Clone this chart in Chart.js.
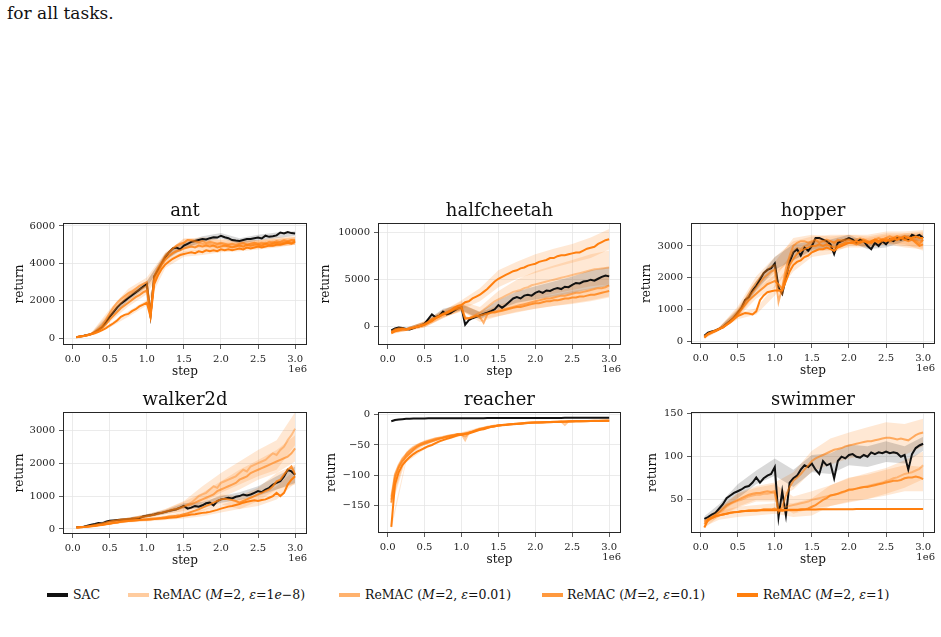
<!DOCTYPE html>
<html>
<head>
<title>ReMAC learning curves</title>
<script src="https://cdn.jsdelivr.net/npm/chart.js"></script>
<style>
    body { margin: 0; background: #fff; width: 941px; height: 637px; overflow: hidden; position: relative; font-family: "DejaVu Serif", serif; color: #111; }
    .intro { position: absolute; left: 7px; top: 3px; font-size: 17px; }
    canvas { position: absolute; }
    .swatch { position: absolute; top: 593px; height: 4px; }
    .legend-item { position: absolute; top: 587px; font-size: 12.5px; line-height: 15px; white-space: nowrap; }
</style>
</head>
<body>
<div class="intro">for all tasks.</div>

<div class="swatch" style="left:47px;width:21px;background:#111"></div>
<div class="legend-item" style="left:73px">SAC</div>
<div class="swatch" style="left:128px;width:21px;background:rgba(255,127,14,0.4)"></div>
<div class="legend-item" style="left:153px">ReMAC (<i>M</i>=2, <i>ε</i>=1<i>e</i>−8)</div>
<div class="swatch" style="left:339px;width:21px;background:rgba(255,127,14,0.6)"></div>
<div class="legend-item" style="left:365px">ReMAC (<i>M</i>=2, <i>ε</i>=0.01)</div>
<div class="swatch" style="left:542px;width:21px;background:rgba(255,127,14,0.8)"></div>
<div class="legend-item" style="left:567px">ReMAC (<i>M</i>=2, <i>ε</i>=0.1)</div>
<div class="swatch" style="left:737px;width:21px;background:rgb(255,127,14)"></div>
<div class="legend-item" style="left:763px">ReMAC (<i>M</i>=2, <i>ε</i>=1)</div>

<script>
// environment steps (x 1e6)
const steps = [0.05, 0.1, 0.15, 0.2, 0.25, 0.3, 0.35, 0.4, 0.45, 0.5,
    0.55, 0.6, 0.65, 0.7, 0.75, 0.8, 0.85, 0.9, 0.95, 1.0,
    1.05, 1.1, 1.15, 1.2, 1.25, 1.3, 1.35, 1.4, 1.45, 1.5,
    1.55, 1.6, 1.65, 1.7, 1.75, 1.8, 1.85, 1.9, 1.95, 2.0,
    2.05, 2.1, 2.15, 2.2, 2.25, 2.3, 2.35, 2.4, 2.45, 2.5,
    2.55, 2.6, 2.65, 2.7, 2.75, 2.8, 2.85, 2.9, 2.95, 3.0];
// steps where the std band is read
const bandSteps = [0.05, 0.25, 0.5, 0.75, 1.0, 1.25, 1.5, 1.75, 2.0, 2.25, 2.5, 2.75, 3.0];

const xTicks = [0, 0.5, 1, 1.5, 2, 2.5, 3];
const antYTicks = [0, 2000, 4000, 6000];
const cheetahYTicks = [0, 5000, 10000];
const hopperYTicks = [0, 1000, 2000, 3000];
const walkerYTicks = [0, 1000, 2000, 3000];
const reacherYTicks = [-150, -100, -50, 0];
const swimmerYTicks = [50, 100, 150];

const seriesNames = ['SAC', 'ReMAC (M=2, eps=1e-8)', 'ReMAC (M=2, eps=0.01)', 'ReMAC (M=2, eps=0.1)', 'ReMAC (M=2, eps=1)'];

// ---- ant ----
const antSac = [60, 100, 130, 170, 220, 320, 450, 600, 850, 1150,
    1400, 1650, 1850, 2000, 2150, 2300, 2450, 2600, 2750, 2900,
    1250, 3300, 3650, 4000, 4350, 4600, 4800, 4850, 4750, 4950,
    5050, 5150, 5200, 5250, 5300, 5280, 5350, 5400, 5380, 5480,
    5400, 5350, 5250, 5220, 5200, 5250, 5300, 5300, 5350, 5380,
    5330, 5480, 5420, 5450, 5500, 5650, 5600, 5680, 5620, 5600];
const antEps1e8 = [50, 90, 120, 170, 230, 330, 480, 650, 900, 1200,
    1450, 1700, 1900, 2100, 2250, 2400, 2500, 2600, 2700, 2800,
    1300, 3300, 3700, 4050, 4350, 4600, 4800, 4900, 5000, 5100,
    5250, 5200, 5150, 5100, 5050, 5000, 5050, 4950, 5000, 5050,
    4950, 5000, 4900, 4950, 5000, 5050, 5000, 5050, 5100, 5050,
    5000, 5100, 5050, 5150, 5100, 5150, 5200, 5150, 5250, 5200];
const antEps001 = [50, 90, 120, 180, 250, 350, 500, 700, 1000, 1350,
    1650, 1900, 2100, 2250, 2400, 2500, 2650, 2800, 2900, 3000,
    1300, 3300, 3750, 4050, 4400, 4600, 4800, 4950, 5050, 5100,
    5250, 5250, 5200, 5150, 5200, 5100, 5150, 5100, 5050, 5100,
    5050, 5000, 5050, 5000, 5050, 5100, 5000, 5050, 5100, 5050,
    5100, 5050, 5150, 5100, 5200, 5150, 5250, 5200, 5250, 5250];
const antEps01 = [50, 90, 120, 160, 220, 300, 400, 550, 750, 1000,
    1200, 1400, 1600, 1750, 1900, 2050, 2200, 2300, 2450, 2550,
    1200, 3100, 3500, 3900, 4200, 4400, 4550, 4650, 4700, 4800,
    4850, 4900, 4850, 4950, 4900, 4950, 4900, 4950, 4850, 4900,
    4950, 4900, 4850, 4900, 4950, 4900, 5000, 4950, 5000, 5000,
    4950, 5050, 5000, 5050, 5100, 5050, 5100, 5150, 5100, 5200];
const antEps1 = [50, 90, 120, 160, 210, 270, 340, 430, 540, 680,
    800, 950, 1150, 1250, 1300, 1450, 1550, 1700, 1800, 1900,
    1150, 2900, 3350, 3700, 3950, 4100, 4250, 4350, 4450, 4500,
    4550, 4600, 4550, 4650, 4600, 4700, 4650, 4700, 4650, 4750,
    4700, 4750, 4700, 4750, 4800, 4750, 4850, 4800, 4850, 4900,
    4850, 4900, 4950, 4950, 5000, 5000, 5050, 5100, 5050, 5150];
const antSpread = [
    [20, 40, 120, 150, 150, 200, 150, 150, 150, 150, 150, 150, 120],
    [20, 50, 200, 250, 250, 200, 250, 250, 200, 200, 200, 200, 200],
    [20, 50, 200, 250, 250, 200, 200, 200, 200, 200, 200, 200, 200],
    [20, 40, 150, 200, 200, 200, 200, 200, 200, 200, 200, 200, 200],
    [20, 40, 100, 150, 150, 200, 150, 150, 150, 150, 150, 150, 150]];

// ---- halfcheetah ----
const cheetahSac = [-400, -200, -100, -150, -250, -300, -150, 0, 100, 300,
    800, 1300, 1000, 1150, 1600, 1300, 1450, 1700, 1950, 2050,
    200, 700, 900, 1050, 1200, 1350, 1500, 1650, 1850, 2300,
    2000, 2300, 2650, 3000, 3150, 3000, 3300, 3400, 3300, 3600,
    3750, 3600, 3850, 3800, 4000, 4100, 4000, 4250, 4200, 4450,
    4650, 4600, 4800, 4850, 5000, 4900, 5100, 5300, 5450, 5350];
const cheetahEps1e8 = [-500, -300, -200, -250, -300, -250, -150, 0, 100, 250,
    500, 700, 900, 1100, 1300, 1500, 1700, 1900, 2100, 2200,
    1000, 900, 1100, 1300, 1500, 1800, 2100, 2400, 2700, 2900,
    3100, 3300, 3500, 3700, 3800, 3900, 4100, 4200, 4400, 4500,
    4600, 4700, 4800, 4900, 5000, 5100, 5200, 5300, 5400, 5500,
    5600, 5700, 5800, 5900, 6000, 6100, 6150, 6200, 6250, 6300];
const cheetahEps001 = [-600, -300, -200, -200, -300, -200, -100, 0, 150, 300,
    500, 800, 1000, 1200, 1400, 1500, 1700, 1900, 2000, 2100,
    800, 900, 1000, 1200, 1000, 400, 1300, 1500, 1600, 1700,
    1800, 1900, 2000, 2100, 2200, 2300, 2400, 2500, 2600, 2700,
    2800, 2900, 3000, 3000, 3100, 3200, 3300, 3300, 3400, 3500,
    3600, 3600, 3700, 3800, 3900, 4000, 4100, 4100, 4200, 4400];
const cheetahEps01 = [-600, -400, -300, -200, -300, -200, -100, 0, 100, 250,
    450, 700, 900, 1100, 1300, 1400, 1600, 1800, 1900, 2000,
    900, 900, 1000, 1100, 1200, 1300, 1400, 1500, 1500, 1600,
    1700, 1800, 1900, 2000, 2100, 2100, 2200, 2300, 2400, 2500,
    2500, 2600, 2700, 2700, 2800, 2800, 2900, 3000, 3000, 3100,
    3100, 3200, 3200, 3300, 3400, 3400, 3500, 3600, 3700, 3800];
const cheetahEps1 = [-700, -500, -400, -300, -300, -200, -100, 0, 100, 200,
    400, 600, 900, 1100, 1300, 1500, 1700, 2000, 2200, 2300,
    2600, 2700, 3000, 3200, 3400, 3700, 4000, 4400, 4800, 5100,
    5300, 5500, 5700, 5900, 6000, 6200, 6300, 6500, 6600, 6700,
    6900, 7000, 7100, 7300, 7300, 7500, 7600, 7600, 7700, 7800,
    7900, 7900, 8100, 8300, 8400, 8500, 8800, 9000, 9200, 9300];
const cheetahSpread = [
    [100, 150, 200, 300, 300, 400, 500, 600, 700, 800, 900, 1000, 1000],
    [100, 150, 300, 400, 500, 600, 900, 1200, 1400, 1500, 1600, 1700, 1800],
    [100, 150, 300, 400, 400, 500, 600, 700, 800, 900, 1000, 1100, 1200],
    [100, 150, 300, 300, 400, 400, 500, 500, 600, 600, 700, 700, 700],
    [100, 150, 300, 400, 500, 700, 900, 900, 1000, 1000, 1000, 1100, 1100]];

// ---- hopper ----
const hopperSac = [180, 280, 320, 350, 400, 450, 550, 650, 750, 900,
    1050, 1300, 1400, 1600, 1750, 1950, 2150, 2250, 2300, 2450,
    1700, 1500, 2000, 2500, 2800, 2900, 2700, 2950, 2850, 3000,
    3250, 3250, 3200, 3150, 3050, 2750, 3100, 3150, 3200, 3250,
    3200, 3100, 3200, 3150, 3000, 2900, 3100, 3000, 3150, 3050,
    3200, 3150, 3250, 3200, 3250, 3200, 3350, 3300, 3350, 3250];
const hopperEps1e8 = [150, 250, 300, 350, 400, 470, 550, 650, 800, 950,
    1100, 1300, 1500, 1700, 1850, 2000, 2150, 2250, 2350, 2400,
    1600, 1500, 2100, 2600, 2850, 2950, 2900, 3000, 3050, 3100,
    3150, 3200, 3150, 3100, 3150, 3100, 3150, 3200, 3150, 3200,
    3150, 3200, 3250, 3200, 3150, 3100, 3200, 3150, 3200, 3250,
    3200, 3250, 3300, 3250, 3200, 3300, 3250, 3200, 3100, 3200];
const hopperEps001 = [150, 250, 300, 350, 400, 450, 550, 650, 750, 900,
    1050, 1250, 1400, 1550, 1700, 1850, 2000, 2100, 2200, 2250,
    1250, 1700, 2300, 2700, 3000, 3100, 3150, 3150, 3100, 3150,
    3200, 3100, 3150, 3200, 3150, 3100, 3200, 3150, 3200, 3200,
    3150, 3100, 3150, 3200, 3150, 3100, 3200, 3250, 3200, 3250,
    3300, 3250, 3300, 3250, 3200, 3250, 3200, 3150, 3050, 3200];
const hopperEps01 = [150, 240, 290, 340, 400, 450, 530, 620, 720, 850,
    1000, 1150, 1300, 1400, 1500, 1600, 1700, 1800, 1850, 1900,
    1800, 1650, 2100, 2400, 2600, 2750, 2850, 2900, 2950, 3000,
    3000, 3050, 3000, 3050, 3000, 2950, 3000, 3050, 3100, 3100,
    3100, 3050, 3100, 3150, 3100, 3100, 3150, 3100, 3150, 3200,
    3150, 3200, 3200, 3250, 3200, 3150, 3200, 3100, 3000, 3050];
const hopperEps1 = [120, 230, 280, 330, 390, 440, 520, 600, 700, 800,
    850, 900, 880, 850, 950, 1300, 1450, 1550, 1580, 1600,
    1600, 1600, 1900, 2200, 2400, 2500, 2550, 2650, 2700, 2800,
    2850, 2900, 2900, 2950, 2900, 2850, 2950, 3000, 3050, 3100,
    3100, 3150, 3100, 3150, 3100, 3150, 3200, 3150, 3200, 3150,
    3200, 3250, 3200, 3250, 3300, 3250, 3250, 3300, 3250, 3250];
const hopperSpread = [
    [30, 50, 100, 150, 200, 250, 150, 150, 100, 100, 100, 100, 100],
    [30, 50, 150, 200, 250, 300, 200, 200, 150, 200, 200, 250, 300],
    [30, 50, 150, 200, 250, 250, 200, 150, 150, 150, 150, 200, 250],
    [30, 50, 100, 150, 200, 200, 150, 150, 150, 150, 150, 150, 200],
    [30, 50, 100, 100, 150, 200, 150, 150, 100, 100, 100, 100, 150]];

// ---- walker2d ----
const walkerSac = [50, 60, 70, 100, 130, 150, 180, 170, 220, 250,
    260, 270, 280, 290, 300, 310, 320, 330, 380, 400,
    420, 440, 470, 490, 520, 550, 580, 600, 650, 700,
    620, 650, 700, 680, 720, 780, 800, 720, 850, 900,
    920, 950, 930, 980, 1000, 1050, 1020, 1050, 1100, 1150,
    1120, 1200, 1250, 1350, 1400, 1450, 1600, 1800, 1750, 1650];
const walkerEps1e8 = [50, 50, 60, 80, 100, 120, 150, 170, 200, 230,
    250, 270, 290, 300, 310, 320, 340, 360, 380, 400,
    420, 450, 480, 500, 530, 560, 600, 620, 650, 700,
    750, 800, 900, 1000, 1050, 1100, 1200, 1300, 1250, 1400,
    1450, 1500, 1550, 1600, 1700, 1800, 1750, 1900, 1950, 2000,
    2050, 2100, 2200, 2300, 2250, 2400, 2500, 2700, 2850, 3050];
const walkerEps001 = [50, 50, 60, 80, 100, 120, 140, 160, 190, 220,
    240, 260, 280, 290, 300, 310, 330, 350, 370, 390,
    410, 430, 460, 490, 520, 550, 580, 600, 640, 680,
    720, 750, 800, 850, 900, 950, 1000, 1050, 1150, 1200,
    1250, 1300, 1350, 1400, 1500, 1550, 1600, 1700, 1750, 1800,
    1850, 1900, 1950, 2000, 2050, 2100, 2150, 2200, 2300, 2450];
const walkerEps01 = [40, 50, 60, 70, 80, 100, 110, 130, 150, 170,
    190, 200, 220, 240, 250, 260, 270, 280, 290, 300,
    310, 320, 330, 340, 360, 380, 390, 400, 420, 450,
    480, 520, 560, 600, 650, 700, 750, 800, 850, 900,
    920, 900, 880, 850, 800, 850, 900, 950, 1000, 1050,
    1100, 1150, 1200, 1300, 1450, 1500, 1650, 1800, 1900, 1650];
const walkerEps1 = [40, 50, 60, 70, 80, 90, 110, 120, 140, 160,
    180, 200, 220, 230, 240, 250, 260, 270, 280, 280,
    290, 300, 310, 320, 330, 340, 350, 360, 380, 400,
    420, 440, 450, 470, 490, 500, 520, 550, 580, 620,
    650, 680, 700, 730, 760, 800, 830, 850, 870, 850,
    880, 900, 950, 1000, 1100, 1000, 1100, 1350, 1500, 1600];
const walkerSpread = [
    [10, 20, 30, 40, 50, 60, 80, 100, 100, 120, 150, 200, 250],
    [10, 20, 30, 40, 50, 80, 150, 250, 300, 350, 400, 450, 500],
    [10, 20, 30, 40, 50, 80, 150, 200, 250, 300, 300, 350, 400],
    [10, 20, 30, 40, 50, 60, 80, 100, 150, 200, 200, 250, 300],
    [10, 20, 30, 40, 50, 60, 80, 100, 120, 150, 150, 200, 200]];

// ---- reacher ----
const reacherSac = [-11, -9, -8, -7.5, -7, -6.8, -6.6, -6.5, -6.4, -6.3,
    -6.2, -6.2, -6.1, -6.1, -6.0, -6.0, -6.0, -5.9, -5.9, -5.9,
    -5.9, -5.8, -5.8, -5.8, -5.8, -5.8, -5.7, -5.7, -5.7, -5.7,
    -5.7, -5.6, -5.6, -5.6, -5.6, -5.6, -5.5, -5.5, -5.5, -5.5,
    -5.5, -5.5, -5.4, -5.4, -5.4, -5.4, -5.4, -5.3, -5.3, -5.3,
    -5.3, -5.3, -5.2, -5.2, -5.2, -5.2, -5.1, -5.1, -5.1, -5.0];
const reacherEps1e8 = [-135, -98, -83, -72, -65, -58, -53, -50, -47, -45,
    -43, -41, -39, -38, -37, -35, -34, -33, -32, -32,
    -42, -30, -28, -25, -23, -22, -20, -19, -18, -17.5,
    -17, -16.5, -16, -15.5, -15, -14.5, -14, -13.5, -13, -12.8,
    -12.6, -12.4, -12.2, -12, -11.8, -11.6, -11.4, -17, -11, -10.8,
    -10.7, -10.6, -10.5, -10.4, -10.3, -10.2, -10.1, -10, -10, -9.9];
const reacherEps001 = [-140, -100, -85, -74, -66, -60, -55, -51, -48, -46,
    -44, -42, -40, -39, -38, -36, -35, -34, -33, -33,
    -36, -30, -28, -26, -24, -22, -21, -20, -19, -18,
    -17, -16.5, -16, -15.5, -15, -14.5, -14, -13.5, -13.2, -13,
    -12.8, -12.5, -12.2, -12, -11.8, -11.6, -11.4, -11.2, -11, -11,
    -10.8, -10.8, -10.6, -10.5, -10.4, -10.3, -10.2, -10.1, -10, -10];
const reacherEps01 = [-145, -105, -88, -77, -70, -64, -58, -53, -50, -48,
    -46, -44, -42, -40, -38, -37, -35, -34, -32, -32,
    -31, -30, -28, -26, -24, -23, -21, -20, -19, -18,
    -17, -16.5, -16, -15.5, -15, -14.5, -14, -13.5, -13, -13,
    -12.8, -12.6, -12.4, -12.2, -12, -11.8, -11.6, -11.4, -11.2, -11,
    -11, -10.8, -10.8, -10.6, -10.6, -10.4, -10.4, -10.2, -10.2, -10];
const reacherEps1 = [-185, -115, -95, -83, -76, -70, -65, -61, -58, -55,
    -52, -50, -47, -44, -42, -40, -38, -36, -34, -33,
    -32, -31, -29, -27, -25, -24, -22, -20, -19, -18,
    -17.5, -17, -16.5, -16, -15.5, -15, -14.5, -14, -13.5, -13,
    -13, -12.8, -12.6, -12.4, -12.2, -12, -11.8, -11.6, -11.4, -11.2,
    -11, -11, -10.8, -10.8, -10.6, -10.6, -10.4, -10.4, -10.2, -10.2];
const reacherSpread = [
    [1, 0.5, 0.3, 0.3, 0.3, 0.3, 0.3, 0.3, 0.3, 0.3, 0.3, 0.3, 0.3],
    [8, 4, 3, 2, 3, 2, 1.5, 1, 1, 1, 1, 1, 1],
    [8, 4, 3, 2, 2, 2, 1.5, 1, 1, 1, 1, 1, 1],
    [8, 4, 3, 2, 2, 2, 1.5, 1, 1, 1, 1, 1, 1],
    [5, 3, 2, 2, 2, 1.5, 1, 1, 1, 1, 1, 1, 1]];

// ---- swimmer ----
const swimmerSac = [28, 30, 33, 35, 40, 45, 52, 55, 58, 60,
    62, 65, 66, 70, 76, 70, 75, 78, 80, 88,
    30, 60, 32, 70, 75, 78, 85, 90, 88, 92,
    85, 80, 95, 90, 92, 75, 95, 100, 98, 102,
    103, 100, 99, 102, 100, 105, 103, 105, 104, 106,
    104, 105, 104, 100, 102, 85, 103, 110, 113, 115];
const swimmerEps1e8 = [24, 27, 30, 32, 35, 38, 42, 45, 47, 49,
    50, 52, 54, 55, 56, 56, 57, 57, 58, 58,
    38, 40, 42, 43, 44, 45, 46, 47, 48, 50,
    51, 52, 53, 54, 55, 56, 57, 58, 60, 61,
    62, 63, 64, 65, 66, 67, 68, 69, 70, 72,
    73, 75, 76, 78, 80, 81, 82, 84, 86, 90];
const swimmerEps001 = [25, 28, 30, 33, 36, 40, 44, 46, 48, 50,
    52, 54, 56, 57, 58, 58, 59, 60, 59, 60,
    36, 42, 55, 65, 72, 76, 80, 85, 90, 95,
    98, 100, 102, 104, 106, 108, 109, 110, 112, 113,
    114, 115, 116, 117, 118, 118, 119, 120, 121, 122,
    122, 121, 120, 121, 120, 119, 122, 125, 127, 128];
const swimmerEps01 = [22, 26, 29, 31, 32, 33, 34, 35, 36, 36,
    37, 37, 38, 38, 38, 38, 39, 39, 39, 40,
    38, 37, 38, 38, 38, 38, 39, 39, 40, 42,
    44, 47, 50, 52, 55, 56, 57, 59, 60, 62,
    62, 63, 64, 65, 65, 66, 67, 68, 69, 70,
    71, 72, 72, 73, 75, 76, 76, 77, 76, 74];
const swimmerEps1 = [18, 27, 29, 31, 32, 33, 34, 35, 35.5, 36,
    36.5, 37, 37, 37.5, 37.5, 38, 38, 38, 38, 38,
    38, 38.2, 38.3, 38.4, 38.5, 38.5, 38.6, 38.7, 38.8, 38.8,
    38.9, 39, 39, 39, 39.1, 39.1, 39.1, 39.2, 39.2, 39.2,
    39.2, 39.3, 39.3, 39.3, 39.3, 39.3, 39.4, 39.4, 39.4, 39.4,
    39.4, 39.4, 39.5, 39.5, 39.5, 39.5, 39.5, 39.5, 39.5, 39.5];
const swimmerSpread = [
    [3, 5, 8, 8, 10, 10, 10, 12, 12, 12, 12, 10, 8],
    [3, 5, 8, 8, 10, 10, 10, 12, 14, 15, 15, 16, 16],
    [3, 5, 8, 8, 10, 10, 12, 15, 15, 16, 18, 18, 16],
    [3, 5, 6, 6, 6, 8, 10, 12, 14, 14, 15, 15, 14],
    [1, 1, 1, 1, 1, 1, 1, 1, 1, 1, 1, 1, 1]];

// ---- styling ----
const lineColors = ['#111111', 'rgba(255,127,14,0.4)', 'rgba(255,127,14,0.6)', 'rgba(255,127,14,0.8)', 'rgb(255,127,14)'];
const bandColors = ['rgba(0,0,0,0.15)', 'rgba(255,127,14,0.18)', 'rgba(255,127,14,0.18)', 'rgba(255,127,14,0.18)', 'rgba(255,127,14,0.18)'];
const drawOrder = [5, 4, 3, 2, 1];

// plot rectangles in page pixels; ylab = distance of the "return" label from the left spine
const panels = [
    { title: 'ant', L: 63, T: 223, R: 307, B: 345, ylab: 43, ymin: -360, ymax: 6160, yTicks: antYTicks,
      means: [antSac, antEps1e8, antEps001, antEps01, antEps1], spread: antSpread },
    { title: 'halfcheetah', L: 378, T: 223, R: 621, B: 345, ylab: 52, ymin: -1950, ymax: 11030, yTicks: cheetahYTicks,
      means: [cheetahSac, cheetahEps1e8, cheetahEps001, cheetahEps01, cheetahEps1], spread: cheetahSpread },
    { title: 'hopper', L: 691, T: 223, R: 935, B: 344, ylab: 44, ymin: -75, ymax: 3720, yTicks: hopperYTicks,
      means: [hopperSac, hopperEps1e8, hopperEps001, hopperEps01, hopperEps1], spread: hopperSpread },
    { title: 'walker2d', L: 63, T: 412, R: 307, B: 534, ylab: 43, ymin: -152, ymax: 3555, yTicks: walkerYTicks,
      means: [walkerSac, walkerEps1e8, walkerEps001, walkerEps01, walkerEps1], spread: walkerSpread },
    { title: 'reacher', L: 378, T: 412, R: 621, B: 533, ylab: 46, ymin: -195, ymax: 4.3, yTicks: reacherYTicks,
      means: [reacherSac, reacherEps1e8, reacherEps001, reacherEps01, reacherEps1], spread: reacherSpread },
    { title: 'swimmer', L: 691, T: 412, R: 935, B: 533, ylab: 38, ymin: 11.6, ymax: 151.8, yTicks: swimmerYTicks,
      means: [swimmerSac, swimmerEps1e8, swimmerEps001, swimmerEps01, swimmerEps1], spread: swimmerSpread }
];

const AXIS_W = 62, TOP_PAD = 28, X_AXIS_H = 34, RIGHT_PAD = 8, BOTTOM_PAD = 6;

Chart.defaults.font.family = '"DejaVu Serif", serif';
Chart.defaults.color = '#222';

// frame, subplot title and the 1e6 offset text
const panelDecor = {
    id: 'panelDecor',
    afterDatasetsDraw(chart, args, opts) {
        const a = chart.chartArea;
        const ctx = chart.ctx;
        ctx.save();
        ctx.strokeStyle = '#262626';
        ctx.lineWidth = 1;
        ctx.strokeRect(Math.round(a.left) + 0.5, Math.round(a.top) + 0.5,
            Math.round(a.right - a.left) - 1, Math.round(a.bottom - a.top) - 1);
        ctx.fillStyle = '#111';
        ctx.font = '18px "DejaVu Serif"';
        ctx.textAlign = 'center';
        ctx.textBaseline = 'alphabetic';
        ctx.fillText(opts.title, (a.left + a.right) / 2, a.top - 7);
        ctx.font = '10px "DejaVu Serif"';
        ctx.fillStyle = '#222';
        ctx.textAlign = 'right';
        ctx.fillText('1e6', a.right, a.bottom + 27);
        ctx.restore();
    }
};

function bandPoints(mean, sd, sign) {
    return bandSteps.map(function (x, k) {
        return { x: x, y: mean[steps.indexOf(x)] + sign * sd[k] };
    });
}

function buildDatasets(means, spread) {
    var sets = [];
    means.forEach(function (mean, s) {
        sets.push({ label: seriesNames[s] + ' low', data: bandPoints(mean, spread[s], -1),
            borderColor: 'transparent', borderWidth: 0, pointRadius: 0, fill: false, order: 10 });
        sets.push({ label: seriesNames[s] + ' high', data: bandPoints(mean, spread[s], 1),
            borderColor: 'transparent', borderWidth: 0, pointRadius: 0, fill: '-1',
            backgroundColor: bandColors[s], order: 10 });
    });
    means.forEach(function (mean, s) {
        sets.push({ label: seriesNames[s],
            data: steps.map(function (x, i) { return { x: x, y: mean[i] }; }),
            borderColor: lineColors[s], borderWidth: 2, pointRadius: 0, fill: false,
            tension: 0, order: drawOrder[s] });
    });
    return sets;
}

function yLabel(v) {
    return v < 0 ? '\u2212' + (-v) : String(v);
}

panels.forEach(function (p) {
    var canvas = document.createElement('canvas');
    var w = (p.R - p.L) + AXIS_W + RIGHT_PAD;
    var h = (p.B - p.T) + TOP_PAD + X_AXIS_H + BOTTOM_PAD;
    canvas.width = w;
    canvas.height = h;
    canvas.style.width = w + 'px';
    canvas.style.height = h + 'px';
    canvas.style.left = (p.L - AXIS_W) + 'px';
    canvas.style.top = (p.T - TOP_PAD) + 'px';
    document.body.appendChild(canvas);

    new Chart(canvas.getContext('2d'), {
        type: 'line',
        data: { datasets: buildDatasets(p.means, p.spread) },
        options: {
            responsive: false,
            animation: false,
            layout: { padding: { top: TOP_PAD, right: RIGHT_PAD, bottom: BOTTOM_PAD, left: 0 } },
            plugins: {
                legend: { display: false },
                tooltip: { enabled: false },
                panelDecor: { title: p.title }
            },
            scales: {
                x: {
                    type: 'linear', min: -0.13, max: 3.16,
                    afterBuildTicks: function (s) { s.ticks = xTicks.map(function (v) { return { value: v }; }); },
                    afterFit: function (s) { s.height = X_AXIS_H; },
                    ticks: { callback: function (v) { return v.toFixed(1); }, font: { size: 10 }, padding: 4, maxRotation: 0, autoSkip: false },
                    grid: { color: '#e6e6e6', lineWidth: 0.8, tickColor: '#333', tickLength: 4 },
                    border: { display: false },
                    title: { display: true, text: 'step', font: { size: 12 }, padding: 0, color: '#111' }
                },
                y: {
                    type: 'linear', min: p.ymin, max: p.ymax,
                    afterBuildTicks: function (s) { s.ticks = p.yTicks.map(function (v) { return { value: v }; }); },
                    afterFit: function (s) { s.width = AXIS_W; },
                    ticks: { callback: yLabel, font: { size: 10 }, padding: 4, autoSkip: false },
                    grid: { color: '#e6e6e6', lineWidth: 0.8, tickColor: '#333', tickLength: 4 },
                    border: { display: false },
                    title: { display: true, text: 'return', font: { size: 12 }, color: '#111',
                        padding: { top: AXIS_W - p.ylab - 7.2, bottom: 0 } }
                }
            }
        },
        plugins: [panelDecor]
    });
});
</script>
</body>
</html>
